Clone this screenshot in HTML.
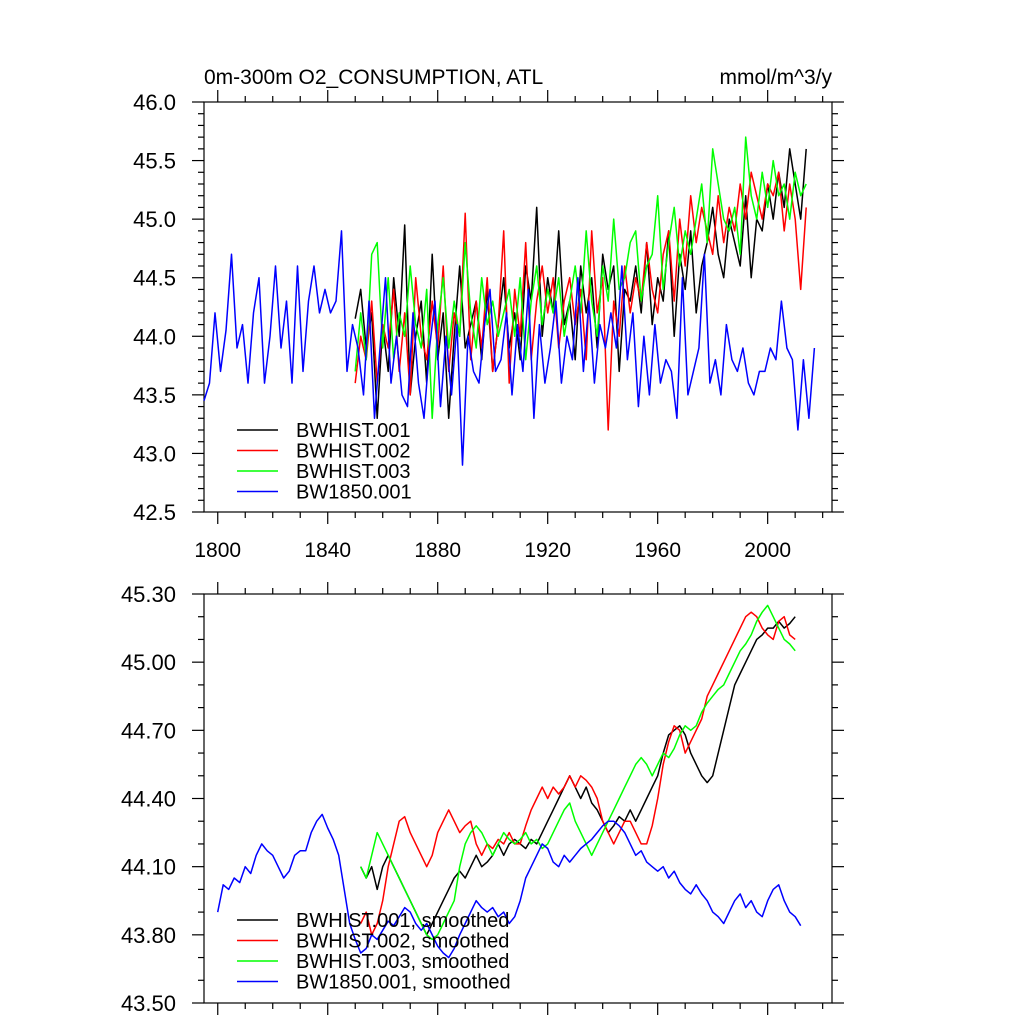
<!DOCTYPE html>
<html><head><meta charset="utf-8"><style>
body{margin:0;background:#fff}
svg{display:block;font-family:"Liberation Sans",sans-serif}
</style></head><body>
<svg id="chart" width="1024" height="1024" viewBox="0 0 1024 1024" xmlns="http://www.w3.org/2000/svg">
<rect width="1024" height="1024" fill="#fff"/>
<text x="204" y="84" font-size="21">0m-300m O2_CONSUMPTION, ATL</text>
<text x="832" y="84" font-size="21" text-anchor="end">mmol/m^3/y</text>
<g id="top"></g>
<g id="bot"></g>
</svg>
<script>
const xTickYears=[1800,1840,1880,1920,1960,2000];
const topYTicks=["42.5","43.0","43.5","44.0","44.5","45.0","45.5","46.0"];
const botYTicks=["43.50","43.80","44.10","44.40","44.70","45.00","45.30"];
const seriesNames=["BWHIST.001","BWHIST.002","BWHIST.003","BW1850.001"];
const seriesColors=["#000","#f00","#0f0","#00f"];
const rawStart=[1850,1850,1850,1795];
const smoothStart=[1852,1852,1852,1800];
const rawBlack=[44.15,44.4,43.9,44.2,43.3,44.1,43.7,44.5,44.0,44.95,43.5,44.0,44.3,43.6,44.7,43.8,44.2,43.3,44.0,44.6,43.9,44.1,44.3,43.8,44.4,43.7,44.1,44.5,43.9,44.2,43.8,44.6,44.3,45.1,44.0,44.5,44.2,44.9,44.1,44.3,43.8,44.6,44.2,44.5,43.9,44.7,44.4,44.6,43.7,44.4,44.3,44.6,44.2,44.8,44.1,44.5,44.3,44.9,44.0,44.7,44.4,44.9,44.2,44.6,44.8,45.1,44.7,44.5,45.0,44.8,44.6,45.2,44.5,45.0,44.9,45.3,45.0,45.4,45.1,45.6,45.3,45.0,45.6];
const rawRed=[43.6,44.0,43.8,44.3,43.6,44.1,43.9,44.4,43.7,44.2,43.5,44.5,44.0,43.8,44.3,43.9,44.6,43.7,44.2,44.0,45.05,43.8,44.3,43.9,44.5,43.7,44.1,44.9,43.6,44.4,44.0,44.8,43.8,44.3,44.6,44.2,44.5,43.9,44.3,44.5,44.1,44.4,43.8,44.9,44.2,44.5,43.2,44.3,44.0,44.6,44.2,44.5,44.3,44.8,44.4,44.2,44.7,44.9,44.3,45.0,44.6,45.2,44.8,45.1,44.9,44.7,45.2,44.8,45.1,44.9,45.3,45.0,45.4,45.2,45.0,45.3,45.2,45.4,44.9,45.3,45.0,44.4,45.1];
const rawGreen=[43.7,44.2,43.8,44.7,44.8,43.9,44.5,43.8,44.2,44.0,44.6,44.1,43.9,44.4,43.3,44.1,44.5,43.9,44.3,44.0,44.8,44.2,43.9,44.5,44.1,44.3,44.0,44.2,44.4,44.0,44.5,43.8,44.3,44.6,44.1,44.4,44.2,44.5,44.0,44.3,44.6,44.2,44.9,44.3,44.0,44.6,44.3,45.0,44.4,44.5,44.8,44.9,44.3,44.6,44.7,45.2,44.4,44.8,45.1,44.6,44.9,44.7,45.0,45.3,44.8,45.6,45.3,45.0,44.9,45.1,44.7,45.7,45.2,45.0,45.4,45.1,45.5,45.2,45.3,45.0,45.4,45.2,45.3];
const rawBlue=[43.45,43.6,44.2,43.7,44.05,44.7,43.9,44.1,43.6,44.2,44.5,43.6,44.0,44.6,43.9,44.3,43.6,44.6,43.7,44.3,44.6,44.2,44.4,44.2,44.3,44.9,43.7,44.1,43.9,43.5,44.3,43.3,43.9,44.5,43.6,44.0,43.5,43.4,44.2,43.6,43.3,43.9,44.3,43.4,44.0,43.5,44.1,42.9,44.0,43.7,43.6,44.1,44.4,43.7,43.8,44.2,43.5,44.1,43.7,44.4,43.3,44.1,43.6,43.9,44.3,43.6,44.0,43.8,44.5,43.7,44.3,43.6,44.1,43.9,44.2,43.9,44.6,43.8,44.2,43.4,44.0,43.5,44.1,43.6,43.8,43.7,43.3,44.5,43.5,43.7,43.9,44.7,43.6,43.8,43.5,44.1,43.8,43.7,43.9,43.6,43.5,43.7,43.7,43.9,43.8,44.3,43.9,43.8,43.2,43.8,43.3,43.9];
const smBlack=[44.1,44.05,44.1,44.0,44.1,44.15,44.1,44.05,44.0,43.95,43.9,43.85,43.8,43.85,43.9,43.95,44.0,44.05,44.08,44.05,44.1,44.15,44.1,44.12,44.15,44.2,44.15,44.2,44.22,44.2,44.18,44.22,44.2,44.25,44.3,44.35,44.4,44.45,44.5,44.45,44.4,44.45,44.38,44.35,44.3,44.25,44.28,44.32,44.3,44.35,44.3,44.35,44.4,44.45,44.5,44.6,44.68,44.7,44.72,44.68,44.6,44.55,44.5,44.47,44.5,44.6,44.7,44.8,44.9,44.95,45.0,45.05,45.1,45.12,45.15,45.15,45.18,45.15,45.17,45.2];
const smRed=[43.85,43.9,43.8,43.85,43.95,44.1,44.2,44.3,44.32,44.25,44.2,44.15,44.1,44.15,44.25,44.3,44.35,44.3,44.25,44.28,44.3,44.2,44.15,44.2,44.18,44.22,44.2,44.25,44.2,44.2,44.28,44.35,44.4,44.45,44.4,44.45,44.42,44.45,44.5,44.45,44.5,44.48,44.45,44.4,44.3,44.25,44.2,44.25,44.3,44.3,44.25,44.2,44.2,44.28,44.4,44.55,44.65,44.72,44.7,44.6,44.65,44.7,44.75,44.85,44.9,44.95,45.0,45.05,45.1,45.15,45.2,45.22,45.2,45.15,45.12,45.1,45.18,45.2,45.12,45.1];
const smGreen=[44.1,44.05,44.15,44.25,44.2,44.15,44.1,44.05,44.0,43.95,43.9,43.85,43.8,43.78,43.8,43.85,43.9,43.95,44.1,44.2,44.25,44.28,44.25,44.2,44.15,44.2,44.25,44.22,44.2,44.22,44.25,44.2,44.22,44.18,44.2,44.25,44.3,44.35,44.38,44.3,44.25,44.2,44.15,44.2,44.25,44.3,44.35,44.4,44.45,44.5,44.55,44.58,44.55,44.5,44.55,44.6,44.58,44.62,44.68,44.72,44.7,44.72,44.78,44.82,44.85,44.88,44.9,44.95,45.0,45.05,45.08,45.12,45.18,45.22,45.25,45.2,45.15,45.1,45.08,45.05];
const smBlue=[43.9,44.02,44.0,44.05,44.03,44.1,44.07,44.15,44.2,44.17,44.15,44.1,44.05,44.08,44.15,44.17,44.17,44.25,44.3,44.33,44.27,44.22,44.15,44.0,43.85,43.78,43.72,43.74,43.8,43.78,43.82,43.86,43.84,43.88,43.92,43.9,43.85,43.82,43.85,43.8,43.75,43.72,43.7,43.74,43.8,43.85,43.9,43.95,43.92,43.9,43.92,43.88,43.9,43.85,43.88,43.95,44.05,44.1,44.15,44.2,44.18,44.12,44.1,44.15,44.12,44.15,44.18,44.2,44.22,44.25,44.28,44.3,44.3,44.28,44.25,44.2,44.15,44.17,44.12,44.1,44.08,44.1,44.05,44.08,44.03,44.0,43.98,44.02,43.98,43.95,43.9,43.88,43.85,43.9,43.95,43.98,43.92,43.95,43.9,43.88,43.95,44.0,44.02,43.95,43.9,43.88,43.84];

const NS="http://www.w3.org/2000/svg";
const X0=204,X1=832,YR0=1795,YR1=2023.4;
function xs(yr){return X0+(yr-YR0)/(YR1-YR0)*(X1-X0);}
function mk(parent,tag,attrs){const e=document.createElementNS(NS,tag);for(const k in attrs)e.setAttribute(k,attrs[k]);parent.appendChild(e);return e;}

function panel(g,top,bot,ymin,ymax,ytk,minorStep,showXLabels,series,starts,legendY,suffix){
  const ys=v=>bot-(v-ymin)/(ymax-ymin)*(bot-top);
  const frame=mk(g,'rect',{x:X0,y:top,width:X1-X0,height:bot-top,fill:'none',stroke:'#000','stroke-width':1.2});
  
  
  for(let yr=1800;yr<=2020;yr+=10){
    const x=xs(yr),maj=(yr-1800)%40===0,L=maj?12:6;
    const t1=mk(g,'line',{x1:x,x2:x,y1:bot,y2:bot+L,stroke:'#000','stroke-width':1.2});
    
    
    const t2=mk(g,'line',{x1:x,x2:x,y1:top,y2:top-L,stroke:'#000','stroke-width':1.2});
    
    
  }
  if(showXLabels){xTickYears.forEach(yr=>{
    const t=mk(g,'text',{x:xs(yr),y:bot+45,'font-size':21,'text-anchor':'middle'});t.textContent=yr;
    
    
  });}
  const nMin=Math.round((ymax-ymin)/minorStep);
  for(let i=0;i<=nMin;i++){
    const v=ymin+i*minorStep,y=ys(v);
    const isMaj=ytk.some(s=>Math.abs(parseFloat(s)-v)<1e-6),L=isMaj?12:6;
    const a=mk(g,'line',{x1:X0,x2:X0-L,y1:y,y2:y,stroke:'#000','stroke-width':1.2});
    
    
    const b=mk(g,'line',{x1:X1,x2:X1+L,y1:y,y2:y,stroke:'#000','stroke-width':1.2});
    
    
  }
  ytk.forEach(s=>{
    const t=mk(g,'text',{x:X0-28,y:ys(parseFloat(s))+8,'font-size':22,'text-anchor':'end'});t.textContent=s;
    
    
  });
  series.forEach((arr,si)=>{
    const pts=arr.map((v,i)=>xs(starts[si]+2*i).toFixed(1)+','+ys(v).toFixed(1)).join(' ');
    const p=mk(g,'polyline',{points:pts,fill:'none',stroke:seriesColors[si],'stroke-width':1.5,'stroke-linejoin':'round'});
    
    
  });
  seriesNames.forEach((n,i)=>{
    const y=legendY+i*20.5;
    const l=mk(g,'line',{x1:237,x2:278,y1:y,y2:y,stroke:seriesColors[i],'stroke-width':1.5});
    
    
    const t=mk(g,'text',{x:296,y:y+7,'font-size':20});t.textContent=n+suffix;
    
    
  });
}
panel(document.getElementById('top'),102,512,42.5,46.0,topYTicks,0.1,true,[rawBlack,rawRed,rawGreen,rawBlue],rawStart,430,'');
panel(document.getElementById('bot'),594,1003,43.5,45.3,botYTicks,0.1,false,[smBlack,smRed,smGreen,smBlue],smoothStart,920,', smoothed');
</script>
</body></html>
